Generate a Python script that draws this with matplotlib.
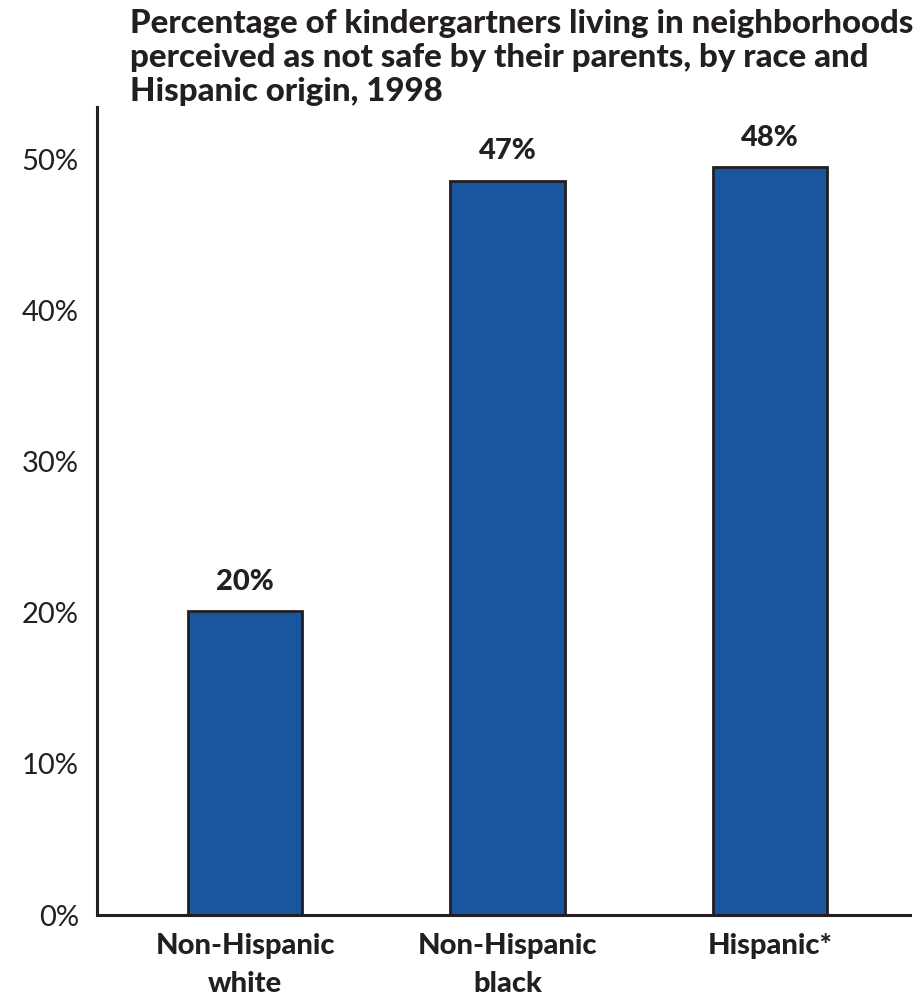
import matplotlib.pyplot as plt

# Data
categories = ["Non-Hispanic\nwhite", "Non-Hispanic\nblack", "Hispanic*"]
bar_heights = [20.1, 48.6, 49.5]
value_labels = ["20%", "47%", "48%"]
y_ticks = [0, 10, 20, 30, 40, 50]
y_tick_labels = ["0%", "10%", "20%", "30%", "40%", "50%"]

title = ("Percentage of kindergartners living in neighborhoods\n"
         "perceived as not safe by their parents, by race and\n"
         "Hispanic origin, 1998")

bar_color = "#1a56a0"
dark = "#231f20"

plt.rcParams['font.family'] = ['Lato', 'DejaVu Sans']

fig = plt.figure(figsize=(9.23, 10), dpi=100)
ax = fig.add_axes([0.105, 0.085, 0.881, 0.808])

x = range(len(categories))
ax.bar(x, bar_heights, width=0.435, color=bar_color, edgecolor=dark, linewidth=2)

for i in x:
    ax.annotate(value_labels[i], (i, bar_heights[i]), xytext=(0, 12),
                textcoords="offset points", ha="center", va="bottom",
                fontsize=21, fontweight="black", color=dark)

ax.set_xlim(-0.565, 2.534)
ax.set_ylim(0, 53.5)
ax.set_yticks(y_ticks)
ax.set_yticklabels(y_tick_labels, fontsize=21, color=dark)
ax.set_xticks(list(x))
ax.set_xticklabels(categories, fontsize=21, fontweight="black", color=dark, linespacing=1.55)
ax.tick_params(axis="both", length=0)
ax.tick_params(axis="y", pad=13)
ax.tick_params(axis="x", pad=13)

for side in ["top", "right"]:
    ax.spines[side].set_visible(False)
for side in ["left", "bottom"]:
    ax.spines[side].set_linewidth(2.2)
    ax.spines[side].set_color(dark)

fig.text(130 / 923, 1 - 9 / 1000, title, ha="left", va="top",
         fontsize=23.8, fontweight="black", color=dark, linespacing=1.2)

fig.savefig("out.png", dpi=100)
plt.close()
